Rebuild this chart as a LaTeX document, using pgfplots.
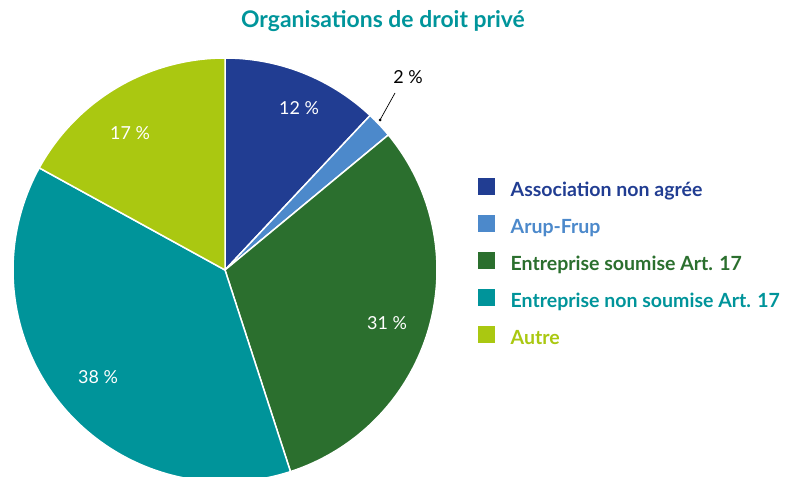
\documentclass[border=0pt]{standalone}
\usepackage{pgfplots}
\pgfplotsset{compat=1.18}
\usepackage{fontspec}
\setmainfont{Lato}

\definecolor{cAssoc}{HTML}{213D92}
\definecolor{cArup}{HTML}{4C89CB}
\definecolor{cSoum}{HTML}{2B6F2E}
\definecolor{cNonSoum}{HTML}{00949A}
\definecolor{cAutre}{HTML}{AAC811}
\definecolor{cTitle}{HTML}{00959B}

% shares in percent, clockwise from 12 o'clock
\def\pA{12}\def\pB{2}\def\pC{31}\def\pD{38}\def\pE{17}
\pgfmathsetmacro{\aO}{90}
\pgfmathsetmacro{\aA}{\aO-3.6*\pA}
\pgfmathsetmacro{\aB}{\aA-3.6*\pB}
\pgfmathsetmacro{\aC}{\aB-3.6*\pC}
\pgfmathsetmacro{\aD}{\aC-3.6*\pD}
\pgfmathsetmacro{\aE}{\aD-3.6*\pE}

% centre and radius of the pie, in picture pixels
\def\cx{225}\def\cy{207}\def\rr{212}

\newcommand{\slice}[3]{%
  \addplot[fill=#3, draw=white, line width=1.5bp, domain=#1:#2, samples=90]
    ({\cx+\rr*cos(x)}, {\cy+\rr*sin(x)}) -- (axis cs:\cx,\cy) -- cycle;}

\begin{document}
\begin{tikzpicture}
\begin{axis}[
    width=786bp, height=477bp, scale only axis,
    xmin=0, xmax=786, ymin=0, ymax=477,
    hide axis,
    legend style={at={(axis cs:477,299)}, anchor=north west, draw=none, fill=none,
        inner sep=0pt, row sep=13.4bp,
        font=\bfseries\fontsize{19.6}{23}\selectfont,
        nodes={inner sep=0pt, text height=14bp, text depth=5bp}},
    legend cell align=left,
    legend image code/.code={%
        \path (0bp,0bp) -- (32bp,0bp);
        \fill[#1, draw=none] (0bp,-3bp) rectangle (17bp,14bp);},
]
\slice{\aA}{\aO}{cAssoc}
\addlegendentry{\textcolor{cAssoc}{Association non agrée}}
\slice{\aB}{\aA}{cArup}
\addlegendentry{\textcolor{cArup}{Arup-Frup}}
\slice{\aC}{\aB}{cSoum}
\addlegendentry{\textcolor{cSoum}{Entreprise soumise Art. 17}}
\slice{\aD}{\aC}{cNonSoum}
\addlegendentry{\textcolor{cNonSoum}{Entreprise non soumise Art. 17}}
\slice{\aE}{\aD}{cAutre}
\addlegendentry{\textcolor{cAutre}{Autre}}

\node[font=\bfseries\fontsize{23}{27}\selectfont, text=cTitle]
    at (axis cs:383,456) {Organisations de droit privé};

\begin{scope}[every node/.style={font=\fontsize{18}{21}\selectfont, text=white}]
\node at (axis cs:299,369) {12 \%};
\node at (axis cs:130,344) {17 \%};
\node at (axis cs:387,154) {31 \%};
\node at (axis cs:98,100) {38 \%};
\end{scope}
\node[font=\fontsize{18}{21}\selectfont] at (axis cs:408,400) {2 \%};
\draw[line width=0.7bp] (axis cs:395,384) -- (axis cs:380,357);
\fill (axis cs:380,357) circle (1.5bp);
\end{axis}
\pgfresetboundingbox
\path (current axis.south west) rectangle (current axis.north east);
\end{tikzpicture}
\end{document}
